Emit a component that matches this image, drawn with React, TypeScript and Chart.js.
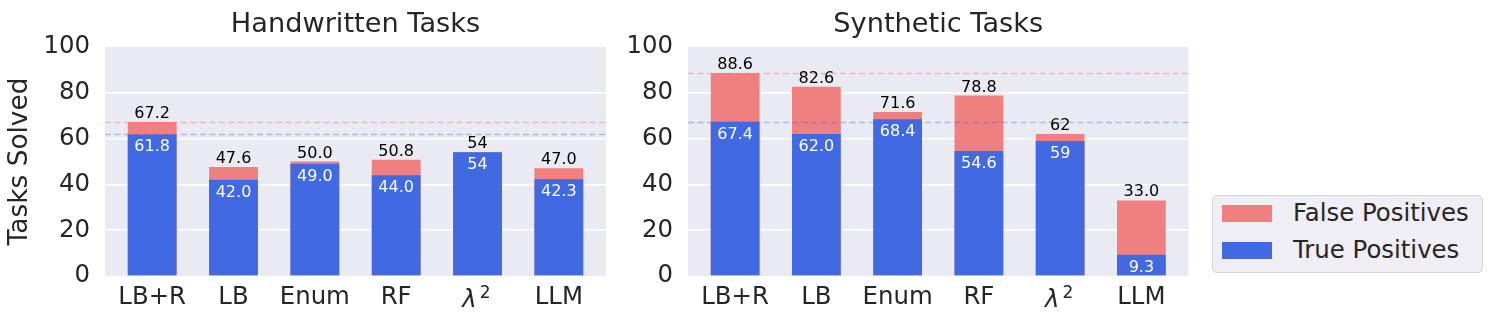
import React, { useEffect, useRef } from "react";
import { Chart, registerables } from "chart.js";

Chart.register(...registerables);

// ---- data ----
const categories = ["LB+R", "LB", "Enum", "RF", "λ²", "LLM"];
const handwrittenTrue = [61.8, 42.0, 49.0, 44.0, 54, 42.3];
const handwrittenTotal = [67.2, 47.6, 50.0, 50.8, 54, 47.0];
const syntheticTrue = [67.4, 62.0, 68.4, 54.6, 59, 9.3];
const syntheticTotal = [88.6, 82.6, 71.6, 78.8, 62, 33.0];
const labelDecimals = [1, 1, 1, 1, 0, 1];
const yTickValues = [0, 20, 40, 60, 80, 100];
const legendLabels = ["False Positives", "True Positives"];

const BLUE = "#4169E1";
const RED = "#F08080";
const BG = "#EAEAF2";
const TEXT = "#262626";
const FONT = '"DejaVu Sans", sans-serif';
const SUPERSCRIPTS = "²";

type PanelProps = {
  title: string;
  trueVals: number[];
  totalVals: number[];
  yTitle?: string;
  left: number;
  width: number;
  yWidth: number;
  padRight: number;
};

function Panel({ title, trueVals, totalVals, yTitle, left, width, yWidth, padRight }: PanelProps) {
  const ref = useRef<HTMLCanvasElement | null>(null);

  useEffect(() => {
    const canvas = ref.current;
    if (!canvas) return;
    const n = categories.length;
    const span = n - 1 + 0.6;
    const xMin = -0.3 - 0.05 * span;
    const xMax = n - 1 + 0.3 + 0.05 * span;

    const decor = {
      id: "decor",
      beforeDraw(chart: any) {
        const { ctx, chartArea: a } = chart;
        ctx.save();
        ctx.fillStyle = BG;
        ctx.fillRect(a.left, a.top, a.right - a.left, a.bottom - a.top);
        ctx.restore();
      },
      afterDatasetsDraw(chart: any) {
        const { ctx, chartArea: a, scales } = chart;
        const xs = scales.x;
        const ys = scales.y;
        ctx.save();
        // reference lines
        ctx.lineWidth = 1.5;
        ctx.setLineDash([6, 3.5]);
        const refLines: [number, string][] = [
          [totalVals[0], "rgba(240,128,128,0.45)"],
          [trueVals[0], "rgba(65,105,225,0.38)"],
        ];
        for (const [v, c] of refLines) {
          const y = Math.round(ys.getPixelForValue(v)) + 0.5;
          ctx.strokeStyle = c;
          ctx.beginPath();
          ctx.moveTo(a.left, y);
          ctx.lineTo(a.right, y);
          ctx.stroke();
        }
        ctx.setLineDash([]);
        // value labels
        ctx.font = `16px ${FONT}`;
        ctx.textAlign = "center";
        ctx.textBaseline = "alphabetic";
        for (let i = 0; i < n; i++) {
          const x = xs.getPixelForValue(i);
          const d = labelDecimals[i];
          ctx.fillStyle = "#000";
          ctx.fillText(totalVals[i].toFixed(d), x, ys.getPixelForValue(totalVals[i]) - 4);
          ctx.fillStyle = "#fff";
          ctx.fillText(trueVals[i].toFixed(d), x, ys.getPixelForValue(trueVals[i]) + 17);
        }
        // math-style tick labels (base + superscript)
        ctx.fillStyle = TEXT;
        ctx.textAlign = "left";
        categories.forEach((c, i) => {
          const last = c.slice(-1);
          if (!SUPERSCRIPTS.includes(last)) return;
          const base = c.slice(0, -1);
          const sup = last === "²" ? "2" : last;
          ctx.font = `italic 24.4px ${FONT}`;
          const w1 = ctx.measureText(base).width;
          ctx.font = `17px ${FONT}`;
          const w2 = ctx.measureText(sup).width;
          const gap = 3;
          const x0 = xs.getPixelForValue(i) - 1 - (w1 + gap + w2) / 2;
          ctx.font = `italic 24.4px ${FONT}`;
          ctx.fillText(base, x0, a.bottom + 31);
          ctx.font = `17px ${FONT}`;
          ctx.fillText(sup, x0 + w1 + gap, a.bottom + 22);
        });
        // title
        ctx.textAlign = "center";
        ctx.fillStyle = TEXT;
        ctx.font = `27.2px ${FONT}`;
        ctx.fillText(title, (a.left + a.right) / 2, 31.5);
        ctx.restore();
      },
    };

    const chart = new Chart(canvas, {
      type: "bar",
      data: {
        datasets: [
          {
            label: legendLabels[1],
            data: trueVals.map((v, i) => ({ x: i, y: v })),
            backgroundColor: BLUE,
            borderWidth: 0,
            grouped: false,
            barPercentage: 0.6,
            categoryPercentage: 1,
            order: 0,
          } as any,
          {
            label: legendLabels[0],
            data: totalVals.map((v, i) => ({ x: i, y: v })),
            backgroundColor: RED,
            borderWidth: 0,
            grouped: false,
            barPercentage: 0.6,
            categoryPercentage: 1,
            order: 1,
          } as any,
        ],
      },
      options: {
        responsive: false,
        animation: false,
        devicePixelRatio: 1,
        layout: { padding: { top: 47, right: padRight, bottom: 0, left: 0 } },
        plugins: { legend: { display: false }, tooltip: { enabled: false } },
        scales: {
          x: {
            type: "linear",
            offset: false,
            min: xMin,
            max: xMax,
            afterBuildTicks: (s: any) => {
              s.ticks = categories.map((_, i) => ({ value: i }));
            },
            afterFit: (s: any) => {
              s.height = 48;
            },
            grid: { display: false, drawTicks: false },
            border: { display: false },
            ticks: {
              autoSkip: false,
              maxRotation: 0,
              padding: 7,
              color: TEXT,
              font: { family: FONT, size: 24.4 },
              callback: (v: any) => {
                const c = categories[Math.round(Number(v))] ?? "";
                return SUPERSCRIPTS.includes(c.slice(-1)) ? "" : c;
              },
            },
          },
          y: {
            min: 0,
            max: 100,
            afterBuildTicks: (s: any) => {
              s.ticks = yTickValues.map((v) => ({ value: v }));
            },
            afterFit: (s: any) => {
              s.width = yWidth;
            },
            grid: {
              drawTicks: false,
              lineWidth: 1.5,
              color: (c: any) =>
                c.tick && c.tick.value > 0 && c.tick.value < 100 ? "#ffffff" : "rgba(0,0,0,0)",
            },
            border: { display: false },
            ticks: {
              padding: 15,
              color: TEXT,
              font: { family: FONT, size: 24.4 },
            },
            title: {
              display: !!yTitle,
              text: yTitle ?? "",
              color: TEXT,
              font: { family: FONT, size: 26.4 },
              padding: { top: 4, bottom: 0 },
            },
          },
        },
      },
      plugins: [decor],
    } as any);

    return () => chart.destroy();
  }, [title, trueVals, totalVals, yTitle, yWidth, padRight]);

  return (
    <canvas
      ref={ref}
      width={width}
      height={324}
      style={{ position: "absolute", left, top: 0, width, height: 324, display: "block" }}
    />
  );
}

function Legend() {
  const items: [string, string][] = [
    [legendLabels[0], RED],
    [legendLabels[1], BLUE],
  ];
  return (
    <div
      style={{
        position: "absolute",
        left: 1212,
        top: 195,
        width: 271,
        height: 78,
        boxSizing: "border-box",
        border: "1px solid #d4d4d8",
        borderRadius: 5,
        background: "#EEEEF4",
        fontFamily: FONT,
      }}
    >
      {items.map(([label, color], i) => (
        <React.Fragment key={label}>
          <div
            style={{
              position: "absolute",
              left: 9,
              top: 9 + i * 37,
              width: 50,
              height: 17,
              background: color,
            }}
          />
          <div
            style={{
              position: "absolute",
              left: 80,
              top: 5 + i * 37,
              fontSize: 24.4,
              lineHeight: "24.4px",
              color: TEXT,
              whiteSpace: "nowrap",
            }}
          >
            {label}
          </div>
        </React.Fragment>
      ))}
    </div>
  );
}

export default function App() {
  return (
    <div
      style={{
        position: "fixed",
        left: 0,
        top: 0,
        width: 1492,
        height: 324,
        background: "#ffffff",
        overflow: "hidden",
      }}
    >
      <Panel
        title="Handwritten Tasks"
        trueVals={handwrittenTrue}
        totalVals={handwrittenTotal}
        yTitle="Tasks Solved"
        left={0}
        width={612}
        yWidth={105}
        padRight={6}
      />
      <Panel
        title="Synthetic Tasks"
        trueVals={syntheticTrue}
        totalVals={syntheticTotal}
        left={612}
        width={588}
        yWidth={76}
        padRight={11.5}
      />
      <Legend />
    </div>
  );
}
